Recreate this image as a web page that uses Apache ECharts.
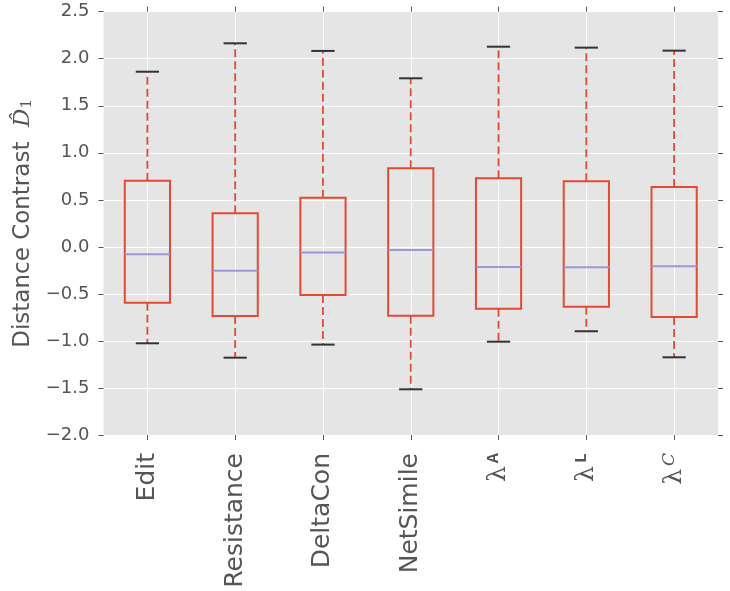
<!DOCTYPE html>
<html>
<head>
<meta charset="utf-8">
<script src="https://cdn.jsdelivr.net/npm/echarts@6/dist/echarts.min.js"></script>
<style>
html,body{margin:0;padding:0;background:#fff;}
#chart{width:730px;height:591px;}
</style>
</head>
<body>
<div id="chart"></div>
<script>
// ---- data ----
const categories = ['Edit', 'Resistance', 'DeltaCon', 'NetSimile', 'lamA', 'lamL', 'lamC'];
const whiskerLow  = [-1.025, -1.178, -1.039, -1.514, -1.008, -0.897, -1.174];
const quartile1   = [-0.593, -0.735, -0.511, -0.731, -0.657, -0.636, -0.745];
const medians     = [-0.079, -0.253, -0.061, -0.033, -0.214, -0.217, -0.206];
const quartile3   = [ 0.704,  0.357,  0.523,  0.836,  0.729,  0.697,  0.637];
const whiskerHigh = [ 1.862,  2.164,  2.083,  1.792,  2.128,  2.118,  2.086];
const yMin = -2.0, yMax = 2.5, yStep = 0.5;

const RED = '#E24A33', MED = '#9C98D6', CAP = '#333333', TXT = '#555555';

const labelMap = {
  lamA: '{l|λ}{sa|A}',
  lamL: '{l|λ}{sa|L}',
  lamC: '{l|λ}{sc|C}'
};

const data = categories.map((c, i) => [i, whiskerLow[i], quartile1[i], medians[i], quartile3[i], whiskerHigh[i]]);

function renderItem(params, api) {
  const x = api.value(0);
  const lo = api.coord([x, api.value(1)]);
  const q1 = api.coord([x, api.value(2)]);
  const md = api.coord([x, api.value(3)]);
  const q3 = api.coord([x, api.value(4)]);
  const hi = api.coord([x, api.value(5)]);
  const band = api.size([1, 0])[0];
  const bw = band * 0.515, cw = band * 0.265;
  const cx = lo[0];
  const dash = {stroke: RED, lineWidth: 1.8, lineDash: [8, 4]};
  return {
    type: 'group',
    children: [
      {type: 'line', shape: {x1: cx, y1: q3[1], x2: cx, y2: hi[1]}, style: dash},
      {type: 'line', shape: {x1: cx, y1: q1[1], x2: cx, y2: lo[1]}, style: dash},
      {type: 'line', shape: {x1: cx - cw / 2, y1: hi[1], x2: cx + cw / 2, y2: hi[1]}, style: {stroke: CAP, lineWidth: 2}},
      {type: 'line', shape: {x1: cx - cw / 2, y1: lo[1], x2: cx + cw / 2, y2: lo[1]}, style: {stroke: CAP, lineWidth: 2}},
      {type: 'rect', shape: {x: cx - bw / 2, y: q3[1], width: bw, height: q1[1] - q3[1]}, style: {fill: 'none', stroke: RED, lineWidth: 2}},
      {type: 'line', shape: {x1: cx - bw / 2, y1: md[1], x2: cx + bw / 2, y2: md[1]}, style: {stroke: MED, lineWidth: 2}}
    ]
  };
}

const chart = echarts.init(document.getElementById('chart'), null, {renderer: 'canvas'});
const fmtY = v => v.toFixed(1).replace('-', '\u2212');
const tickStyle = {show: true, inside: false, length: 5, lineStyle: {color: TXT, width: 1}};

const GL = 103.5, GR = 12, GT = 11.7, GB = 156;
const plotW = 730 - GL - GR;
const band = plotW / categories.length;

chart.setOption({
  animation: false,
  backgroundColor: '#ffffff',
  grid: [
    {left: GL, right: GR, top: GT, bottom: GB, show: true, backgroundColor: '#E5E5E5', borderWidth: 0,
     containLabel: false, outerBoundsMode: 'none'},
    // same area, inset by half a band: gives vertical grid lines at category centres
    {left: GL + band / 2, right: GR + band / 2, top: GT, bottom: GB, show: false,
     containLabel: false, outerBoundsMode: 'none'}
  ],
  xAxis: [{
    type: 'category', data: categories, position: 'bottom', boundaryGap: true, gridIndex: 0,
    axisLine: {show: false, onZero: false},
    axisTick: Object.assign({alignWithLabel: true}, tickStyle),
    splitLine: {show: false},
    axisLabel: {
      rotate: 90, margin: 18, color: TXT, fontSize: 25, fontFamily: 'DejaVu Sans',
      formatter: v => labelMap[v] || v,
      rich: {
        l: {fontFamily: 'DejaVu Serif', fontSize: 25, color: TXT},
        sa: {fontFamily: 'Liberation Mono', fontWeight: 'bold', fontSize: 17, color: TXT, verticalAlign: 'top', padding: [0, 0, 9, 3]},
        sc: {fontFamily: 'DejaVu Serif', fontStyle: 'italic', fontSize: 17, color: TXT, verticalAlign: 'top', padding: [0, 0, 9, 3]}
      }
    }
  }, {
    type: 'category', data: categories, position: 'top', boundaryGap: true, gridIndex: 0,
    axisLine: {show: false, onZero: false}, axisLabel: {show: false}, splitLine: {show: false},
    axisTick: Object.assign({alignWithLabel: true}, tickStyle)
  }, {
    type: 'category', data: categories, position: 'bottom', boundaryGap: false, gridIndex: 1,
    axisLine: {show: false, onZero: false}, axisLabel: {show: false}, axisTick: {show: false},
    splitLine: {show: true, lineStyle: {color: '#ffffff', width: 1}}
  }],
  yAxis: [{
    type: 'value', min: yMin, max: yMax, interval: yStep, position: 'left', gridIndex: 0,
    axisLine: {show: false},
    axisTick: tickStyle,
    splitLine: {show: true, lineStyle: {color: '#ffffff', width: 1}},
    axisLabel: {color: TXT, fontSize: 18, fontFamily: 'DejaVu Sans', margin: 14, formatter: fmtY},
    name: 'Distance Contrast  {d|D\u0302}{s|1}',
    nameLocation: 'middle', nameGap: 65, nameRotate: 90,
    nameTextStyle: {
      color: TXT, fontSize: 23, fontFamily: 'DejaVu Sans',
      rich: {
        d: {fontFamily: 'DejaVu Serif', fontStyle: 'italic', fontSize: 23, color: TXT},
        s: {fontFamily: 'DejaVu Serif', fontSize: 15, color: TXT, verticalAlign: 'bottom'}
      }
    }
  }, {
    type: 'value', min: yMin, max: yMax, interval: yStep, position: 'right', gridIndex: 0,
    axisLine: {show: false}, axisLabel: {show: false}, splitLine: {show: false},
    axisTick: tickStyle
  }, {
    type: 'value', min: yMin, max: yMax, interval: yStep, gridIndex: 1, show: false
  }],
  series: [{
    type: 'custom', xAxisIndex: 0, yAxisIndex: 0, renderItem: renderItem,
    encode: {x: 0, y: [1, 2, 3, 4, 5]}, data: data, clip: false, z: 5
  }]
});
</script>
</body>
</html>
